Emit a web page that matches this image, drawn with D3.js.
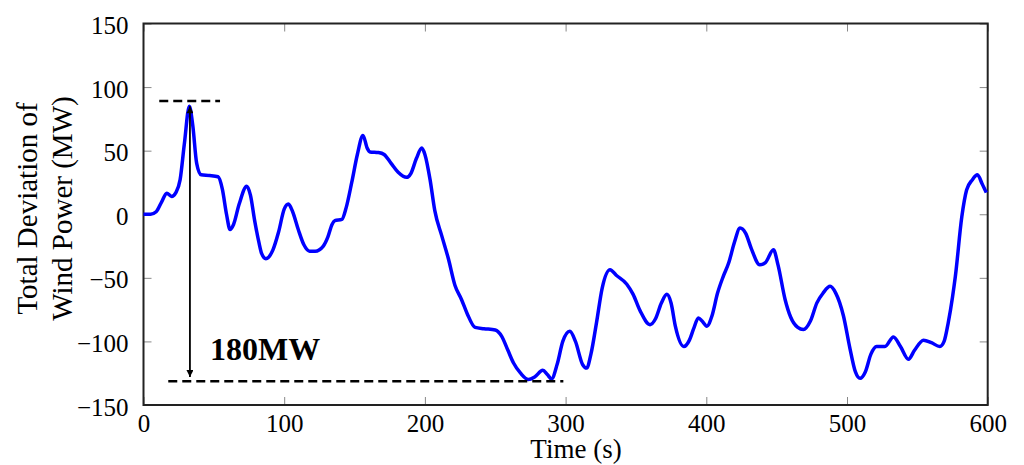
<!DOCTYPE html>
<html>
<head>
<meta charset="utf-8">
<script src="https://cdn.jsdelivr.net/npm/d3@7"></script>
<style>
  body { margin: 0; background: #fff; }
  svg { display: block; }
</style>
</head>
<body>
<div id="chart"></div>
<script>
const times = [
  0, 5, 9, 13, 16.5, 20, 23, 26, 29, 32.6, 35, 37.8, 41, 47, 53, 56, 59, 61.5, 64, 68,
  73.4, 76, 79, 82, 84, 87, 92, 96, 100, 103, 106, 110, 114, 118, 122, 127.8, 131, 134, 136, 141,
  144, 148, 152, 156, 159, 161, 167, 171, 176, 181, 187, 190, 194, 197.8, 200, 203.7, 207, 212, 216.7, 221.4,
  226, 230, 235.7, 242, 250, 254.6, 259, 263, 268, 273.6, 278, 283.8, 287, 290, 294, 298, 303, 307, 312, 315,
  318, 322, 326, 331.6, 336, 343.5, 348, 353, 360, 364, 368, 372, 375, 378, 384, 388, 391, 394.4, 397, 400.4,
  404, 408, 412, 416, 420, 424, 428, 432, 438, 442, 447.7, 451, 456, 460, 465, 469, 474, 478.6, 483, 488,
  492, 497.5, 502, 506, 509.3, 513, 517, 521, 527, 533, 538, 543.7, 548, 554.4, 560, 566, 569, 572, 575, 577,
  581.6, 585, 589, 592.7, 596, 599
];
const power = [
  0, 0, 2, 10, 16.5, 14, 17, 27, 55, 85, 70, 40, 31, 30.5, 29.5, 20, 0, -12, -8, 8,
  22, 15, -5, -22, -31, -35, -28, -14, 4, 8, 2, -12, -24, -29, -29, -25, -18, -8, -5, -4,
  5, 25, 47, 62, 52, 49, 48.5, 47, 40, 33, 29, 32, 44, 52, 47, 27, 3, -17, -35, -56,
  -67, -78, -89, -90, -91, -96, -107, -117, -125, -130, -128, -122.7, -126, -129.5, -118, -100, -92, -100, -118, -121,
  -110, -85, -58, -43.6, -48, -55, -63, -76, -86.8, -82, -70, -63, -70, -88, -104, -99, -90, -81.5, -84, -88,
  -80, -62, -49, -38, -22, -10.8, -15, -27, -39.7, -38, -28, -40, -67, -81, -89, -90.7, -84, -69.7, -62, -56.7,
  -62, -80, -105, -124, -129, -124, -110, -104, -104, -96.5, -104, -114, -107, -99, -101, -104, -100, -85, -65, -49,
  -2, 19, 27, 31, 24, 17
];
const xTicks = [0, 100, 200, 300, 400, 500, 600];
const yTicks = [-150, -100, -50, 0, 50, 100, 150];

// annotation: dashed levels [t0, t1, value], arrow [t, vTop, vBottom]
const dashLevels = [[11.2, 54.4, 89], [17.6, 298.4, -131.3]];
const arrowSpan = [33, 85, -128];

const width = 1024, height = 465;
const margins = {left: 143.5, top: 23.5, right: 36.3, bottom: 60};
const font = '"Liberation Serif", "Times New Roman", serif';
const cw = width - margins.left - margins.right;
const ch = height - margins.top - margins.bottom;

const root = d3.select('#chart').append('svg')
  .attr('width', width)
  .attr('height', height);
const svg = root.append('g')
  .attr('transform', 'translate(' + margins.left + ',' + margins.top + ')');

const x = d3.scaleLinear().domain([0, 600]).range([0, cw]);
const y = d3.scaleLinear().domain([-150, 150]).range([ch, 0]);

// inward ticks on all four sides
const styleAxis = (g) => {
  g.select('.domain').remove();
  g.selectAll('.tick line').attr('stroke', '#888').attr('stroke-width', 1);
  g.selectAll('.tick text').attr('font-family', font).attr('font-size', 25).attr('fill', '#000');
};

svg.append('g')
  .attr('transform', 'translate(0,' + ch + ')')
  .call(d3.axisBottom(x).tickValues(xTicks).tickSize(-8).tickPadding(9))
  .call(styleAxis);
svg.append('g')
  .call(d3.axisLeft(y).tickValues(yTicks).tickSize(-8).tickPadding(15))
  .call(styleAxis)
  .selectAll('.tick text').attr('dy', '0.4em');
svg.append('g')
  .call(d3.axisTop(x).tickValues(xTicks).tickSize(-8).tickFormat(''))
  .call(styleAxis);
svg.append('g')
  .attr('transform', 'translate(' + cw + ',0)')
  .call(d3.axisRight(y).tickValues(yTicks).tickSize(-8).tickFormat(''))
  .call(styleAxis);

svg.append('rect')
  .attr('width', cw)
  .attr('height', ch)
  .attr('fill', 'none')
  .attr('stroke', '#222')
  .attr('stroke-width', 2);

const data = times.map((t, i) => ({x: t, y: power[i]}));
const line = d3.line().curve(d3.curveMonotoneX).x((d) => x(d.x)).y((d) => y(d.y));

svg.append('path')
  .datum(data)
  .attr('fill', 'none')
  .attr('stroke', '#0000ff')
  .attr('stroke-width', 3.5)
  .attr('stroke-linejoin', 'round')
  .attr('d', line);

// dashed reference levels
svg.selectAll('.level')
  .data(dashLevels)
  .enter()
  .append('line')
  .attr('x1', (d) => x(d[0]))
  .attr('x2', (d) => x(d[1]))
  .attr('y1', (d) => y(d[2]))
  .attr('y2', (d) => y(d[2]))
  .attr('stroke', '#000')
  .attr('stroke-width', 2.5)
  .attr('stroke-dasharray', '9,5');

// double headed arrow
const defs = root.append('defs');
['start', 'end'].forEach((k) => {
  defs.append('marker')
    .attr('id', 'arr_' + k)
    .attr('viewBox', '0 0 10 10')
    .attr('refX', 10)
    .attr('refY', 5)
    .attr('markerWidth', 9)
    .attr('markerHeight', 7)
    .attr('markerUnits', 'userSpaceOnUse')
    .attr('orient', k === 'start' ? 'auto-start-reverse' : 'auto')
    .append('path')
    .attr('d', 'M0,0 L10,5 L0,10 Z')
    .attr('fill', '#000');
});
svg.append('line')
  .attr('x1', x(arrowSpan[0]))
  .attr('x2', x(arrowSpan[0]))
  .attr('y1', y(arrowSpan[1]))
  .attr('y2', y(arrowSpan[2]))
  .attr('stroke', '#000')
  .attr('stroke-width', 1.8)
  .attr('marker-start', 'url(#arr_start)')
  .attr('marker-end', 'url(#arr_end)');

root.append('text')
  .attr('x', 210)
  .attr('y', 360)
  .attr('font-family', font)
  .attr('font-size', 32)
  .attr('font-weight', 'bold')
  .text('180MW');

// axis titles
root.append('text')
  .attr('x', 576)
  .attr('y', 458)
  .attr('text-anchor', 'middle')
  .attr('font-family', font)
  .attr('font-size', 27)
  .text('Time (s)');

[['Total Deviation of', 37], ['Wind Power (MW)', 72]].forEach(([s, bx]) => {
  root.append('text')
    .attr('transform', 'translate(' + bx + ',208.5) rotate(-90)')
    .attr('text-anchor', 'middle')
    .attr('font-family', font)
    .attr('font-size', 29)
    .text(s);
});
</script>
</body>
</html>
